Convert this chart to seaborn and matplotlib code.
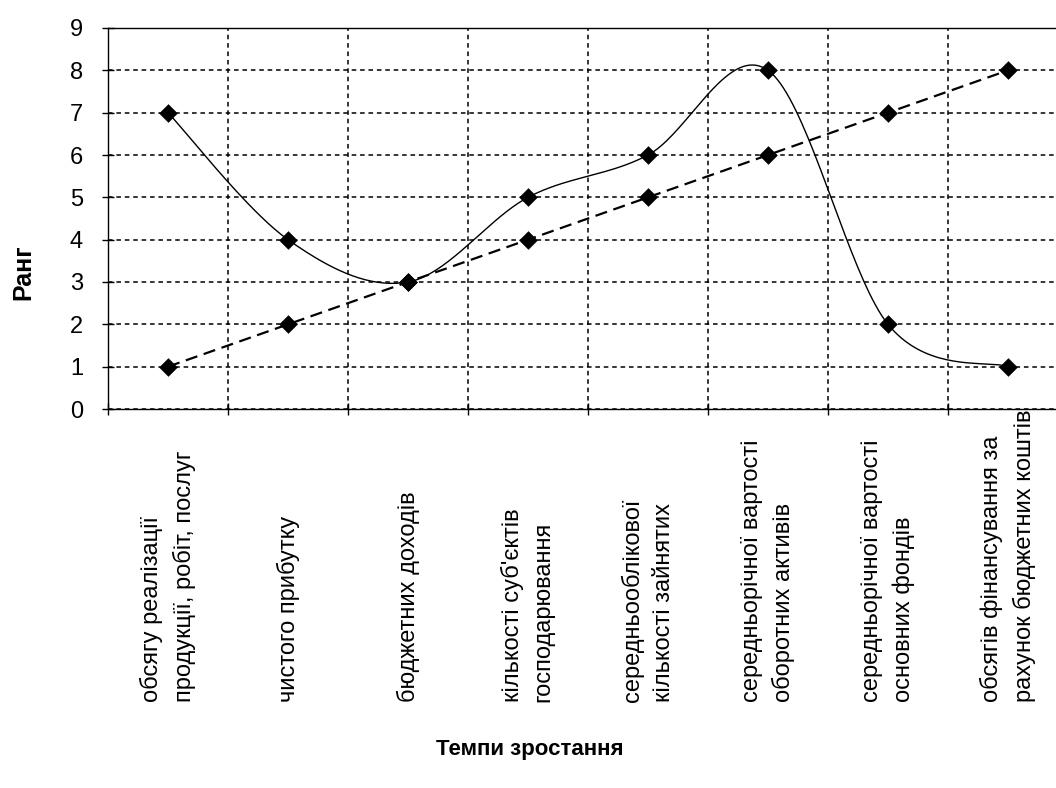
import numpy as np
import pandas as pd
import seaborn as sns
import matplotlib
matplotlib.use("Agg")
import matplotlib.pyplot as plt
from matplotlib import font_manager

categories = [
    "обсягу реалізації\nпродукції, робіт, послуг",
    "чистого прибутку",
    "бюджетних доходів",
    "кількості суб'єктів\nгосподарювання",
    "середньооблікової\nкількості зайнятих",
    "середньорічної вартості\nоборотних активів",
    "середньорічної вартості\nосновних фондів",
    "обсягів фінансування за\nрахунок бюджетних коштів",
]
rank_actual = [7, 4, 3, 5, 6, 8, 2, 1]
rank_ideal = [1, 2, 3, 4, 5, 6, 7, 8]
y_ticks = [0, 1, 2, 3, 4, 5, 6, 7, 8, 9]


def smooth(xs, ys, n=40):
    # Catmull-Rom style bezier smoothing (like spreadsheet "smoothed line")
    p = np.column_stack([xs, ys]).astype(float)
    out = []
    for i in range(len(p) - 1):
        p0 = p[i - 1] if i > 0 else p[i]
        p1, p2 = p[i], p[i + 1]
        p3 = p[i + 2] if i + 2 < len(p) else p[i + 1]
        b1 = p1 + (p2 - p0) / 6
        b2 = p2 - (p3 - p1) / 6
        t = np.linspace(0, 1, n)[:, None]
        seg = ((1 - t) ** 3) * p1 + 3 * ((1 - t) ** 2) * t * b1 + 3 * (1 - t) * t ** 2 * b2 + t ** 3 * p2
        out.append(seg if i == 0 else seg[1:])
    s = np.vstack(out)
    return pd.DataFrame({"x": s[:, 0], "y": s[:, 1]})


sns.set_theme(style="white", rc={"text.color": "black", "axes.labelcolor": "black",
                                 "xtick.color": "black", "ytick.color": "black"})
names = {f.name for f in font_manager.fontManager.ttflist}
narrow = "Liberation Sans Narrow" in names
plt.rcParams["font.family"] = ["Liberation Sans", "DejaVu Sans"]
cat_family = ["Liberation Sans Narrow", "Liberation Sans"] if narrow else ["Liberation Sans"]
cat_size = 21 if narrow else 17

W, H = 1056, 788
fig = plt.figure(figsize=(W / 100, H / 100), dpi=100)
ax = fig.add_axes([108 / W, (H - 409) / H, 960 / W, 381 / H])

x = np.arange(len(categories))
df_ideal = pd.DataFrame({"x": x, "y": rank_ideal})
df_actual = pd.DataFrame({"x": x, "y": rank_actual})

sns.lineplot(data=smooth(x, rank_actual), x="x", y="y", ax=ax, color="black",
             linewidth=1.0, sort=False, estimator=None)
sns.lineplot(data=df_ideal, x="x", y="y", ax=ax, color="black", linewidth=1.6,
             linestyle=(0, (5.5, 3)), estimator=None)
sns.scatterplot(data=df_actual, x="x", y="y", ax=ax, marker="D", s=90, color="black",
                linewidth=0, zorder=5)
sns.scatterplot(data=df_ideal, x="x", y="y", ax=ax, marker="D", s=90, color="black",
                linewidth=0, zorder=5)

ax.set_xlim(-0.5, len(categories) - 0.5)
ax.set_ylim(0, 9)
ax.set_yticks(y_ticks)
ax.set_yticklabels([str(v) for v in y_ticks], fontsize=17)
ax.set_xticks(np.arange(-0.5, len(categories), 1))
ax.set_xticklabels([])
ax.tick_params(axis="both", direction="inout", length=8, width=1, color="black",
               left=True, bottom=True, pad=14)
ax.grid(True, color="black", linestyle=(0, (3, 2.5)), linewidth=1.1)
ax.set_axisbelow(True)
for side in ["left", "bottom", "top"]:
    ax.spines[side].set_visible(True)
    ax.spines[side].set_color("black")
    ax.spines[side].set_linewidth(1.0)
ax.spines["right"].set_visible(False)
ax.set_xlabel("")
ax.set_ylabel("")

for i, lab in enumerate(categories):
    ax.text(i, (409 - 702) / 381, lab, transform=ax.get_xaxis_transform(),
            rotation=90, ha="center", va="bottom", multialignment="left",
            fontsize=cat_size, family=cat_family, linespacing=1.5, clip_on=False)

fig.text(23 / W, 1 - 272 / H, "Ранг", rotation=90, ha="center", va="center",
         fontsize=18, fontweight="bold")
fig.text(530 / W, 1 - 750 / H, "Темпи зростання", ha="center", va="center",
         fontsize=16, fontweight="bold")

fig.savefig("out.png", dpi=100)
